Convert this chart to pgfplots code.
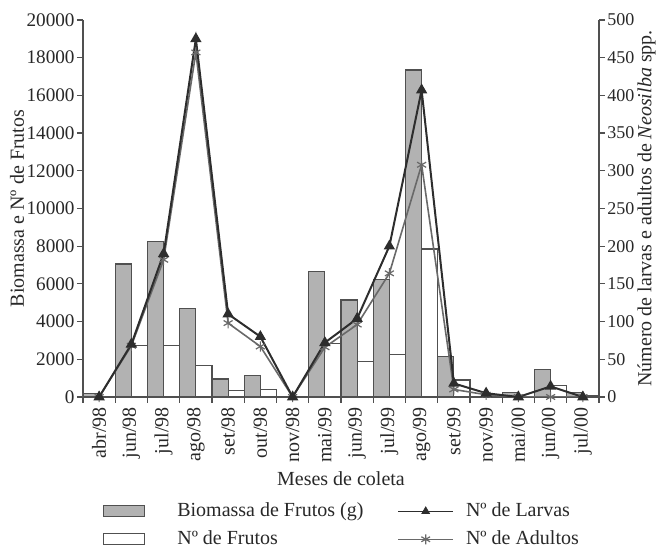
\documentclass[border=0pt]{standalone}
\usepackage{fontspec}
\setmainfont{Liberation Serif}
\usepackage{pgfplots}
\pgfplotsset{compat=1.18}
\definecolor{axgray}{RGB}{80,80,80}
\definecolor{bargray}{RGB}{178,178,178}
\definecolor{larv}{RGB}{45,45,45}
\definecolor{adul}{RGB}{105,105,105}
\definecolor{txt}{RGB}{40,40,40}

\pgfplotstableread{
x bio fru larv adul
0 200 0 0 0
1 7050 2750 70 68
2 8250 2750 190 182
3 4700 1650 475 457
4 950 350 110 98
5 1150 400 80 67
6 0 0 0 0
7 6650 2850 72 66
8 5150 1900 104 96
9 6250 2250 200 164
10 17350 7850 407 308
11 2150 900 18 10
12 0 0 5 3
13 250 0 0 0
14 1450 600 14 0
15 250 100 0 0
}\datatable

\pgfplotsset{
  biolegend/.style={legend image code/.code={\draw[fill=bargray, draw=axgray, line width=0.6pt] (0pt,-2.75pt) rectangle (20.5pt,2.75pt);}},
  frulegend/.style={legend image code/.code={\draw[fill=white, draw=axgray, line width=0.6pt] (0pt,-2.75pt) rectangle (20.5pt,2.75pt);}},
  larvlegend/.style={legend image code/.code={\draw[larv, line width=0.8pt] (0pt,0pt) -- (27.5pt,0pt); \draw[larv] plot[only marks, mark=triangle*, mark size=2.2pt] coordinates {(13.75pt,0pt)};}},
  adullegend/.style={legend image code/.code={\draw[adul, line width=0.6pt] (0pt,0pt) -- (27.5pt,0pt); \draw[adul, line width=0.6pt] plot[only marks, mark=asterisk, mark size=2.5pt] coordinates {(13.75pt,0pt)};}},
}

\begin{document}
\begin{tikzpicture}
\pgfplotsset{
  common/.style={
    scale only axis, width=258pt, height=188.5pt,
    xmin=-0.5, xmax=15.5,
    scaled y ticks=false,
    /pgf/number format/assume math mode=true,
    /pgf/number format/1000 sep={},
    tick align=outside,
    axis line style={axgray, line width=0.8pt},
    major tick length=3pt, minor tick length=3pt,
    every tick/.style={axgray, line width=0.6pt},
    tick label style={color=txt},
    label style={color=txt},
  }
}
\begin{axis}[common, name=ax1,
  axis y line*=left, axis x line*=bottom,
  ymin=0, ymax=20000, ytick={0,2000,...,20000},
  yticklabel style={inner sep=1pt, font=\fontsize{9.6}{11}\selectfont},
  xtick={0,...,15},
  xticklabels={abr/98,jun/98,jul/98,ago/98,set/98,out/98,nov/98,mai/99,jun/99,jul/99,ago/99,set/99,nov/99,mai/00,jun/00,jul/00},
  xticklabel style={rotate=90, anchor=east, inner sep=2pt},
  major x tick style={draw=none},
  minor xtick={-0.5,0.5,...,15.5},
  ylabel={Biomassa e Nº de Frutos},
  xlabel={Meses de coleta},
  ylabel style={at={(axis description cs:-0.128,0.5)}, anchor=center},
  xlabel style={yshift=1pt},
]
\addplot[ybar, bar width=0.5, bar shift=-0.25, fill=bargray, draw=axgray, line width=0.6pt] table[x=x, y=bio] {\datatable};
\addplot[ybar, bar width=0.5, bar shift=0.25, fill=white, draw=axgray, line width=0.6pt] table[x=x, y=fru] {\datatable};
\end{axis}
\begin{axis}[common,
  axis y line*=right, axis x line=none,
  ymin=0, ymax=500, ytick={0,50,...,500},
  yticklabel style={font=\fontsize{9}{10}\selectfont, inner sep=1pt},
  xtick=\empty,
  ylabel={Número de larvas e adultos de \textit{Neosilba} spp.},
  ylabel style={at={(axis description cs:1.092,0.5)}, anchor=center},
  legend columns=2,
  legend cell align=left,
  legend style={draw=none, fill=none, inner sep=0pt, at={(0.5,-0.28)}, anchor=north,
    nodes={inner sep=0pt},
    /tikz/column 1/.style={column sep=16pt},
    /tikz/column 2/.style={column sep=17pt},
    /tikz/column 3/.style={column sep=6pt},
    row sep=5.5pt, font=\normalsize, text=txt},
]
\addplot[adul, line width=0.8pt, mark=asterisk, mark size=2.6pt, mark options={line width=0.6pt}, forget plot] table[x=x, y=adul] {\datatable};
\addplot[larv, line width=1.0pt, mark=triangle*, mark size=2.3pt, forget plot] table[x=x, y=larv] {\datatable};
\addlegendimage{biolegend}
\addlegendentry{Biomassa de Frutos (g)}
\addlegendimage{larvlegend}
\addlegendentry{Nº de Larvas}
\addlegendimage{frulegend}
\addlegendentry{Nº de Frutos}
\addlegendimage{adullegend}
\addlegendentry{Nº de Adultos}
\end{axis}
\pgfresetboundingbox
\path ([xshift=-41.5pt,yshift=10pt]ax1.north west) rectangle ([xshift=30.5pt,yshift=-76pt]ax1.south east);
\end{tikzpicture}
\end{document}
